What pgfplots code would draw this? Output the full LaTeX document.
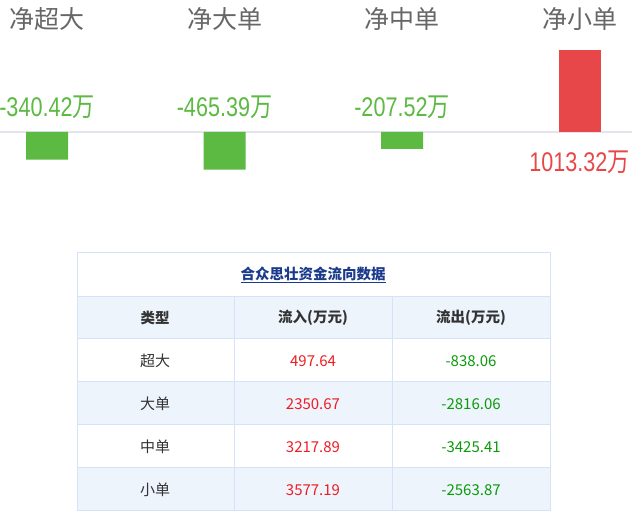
\documentclass[border=0pt]{standalone}
\usepackage{pgfplots}
\pgfplotsset{compat=1.18}
\usepackage{fontspec}
\setmainfont{Liberation Sans}
\newfontfamily\cjk{Noto Sans CJK SC}
\newfontfamily\numfont[FakeStretch=0.8]{Liberation Sans}
\newfontfamily\cjknarrow[FakeStretch=0.82]{Noto Sans CJK SC}

\definecolor{negbar}{HTML}{5CB942}
\definecolor{posbar}{HTML}{E8474A}
\definecolor{titlegray}{HTML}{666666}
\definecolor{zeroline}{HTML}{E4E5EC}
\definecolor{tblborder}{HTML}{D5E3FA}
\definecolor{tblfill}{HTML}{EDF4FC}
\definecolor{tbltitle}{HTML}{1A3A8C}
\definecolor{inred}{HTML}{EE1C25}
\definecolor{outgreen}{HTML}{0A9A0A}
\definecolor{txt}{HTML}{333333}

% net flow (10k yuan)
\pgfplotstableread{
x  y
0  -340.42
1  -465.39
2  -207.52
}\negdata
\pgfplotstableread{
x  y
3  1013.32
}\posdata

\newcommand{\vlab}[1]{{\numfont\fontsize{27}{27}\selectfont #1{\cjknarrow 万}}}

\begin{document}
\begin{tikzpicture}
\useasboundingbox (0pt,0pt) rectangle (632pt,513pt);
\begin{axis}[
  at={(0pt,513pt)}, anchor=north west,
  scale only axis,
  width=632pt, height=200pt,
  xmin=-0.2648, xmax=3.2958,
  ymin=-839.5, ymax=1629.6,
  axis x line=middle, axis y line=none,
  x axis line style={-, draw=zeroline, line width=1.6pt},
  xtick=\empty, ytick=\empty,
  clip=false,
]
  \addplot[ybar, bar width=42pt, bar shift=0pt, fill=negbar, draw=none] table[x=x, y=y] {\negdata};
  \addplot[ybar, bar width=42pt, bar shift=0pt, fill=posbar, draw=none] table[x=x, y=y] {\posdata};

  % category titles
  \foreach \i/\t in {0/净超大, 1/净大单, 2/净中单, 3/净小单} {
    \edef\tmp{\noexpand\node[text=titlegray, font=\noexpand\cjk\noexpand\fontsize{25}{25}\noexpand\selectfont] at (axis cs:\i,1395) {\t};}
    \tmp
  }
  % value labels
  \node[text=negbar] at (axis cs:0,309) {\vlab{-340.42}};
  \node[text=negbar] at (axis cs:1,309) {\vlab{-465.39}};
  \node[text=negbar] at (axis cs:2,309) {\vlab{-207.52}};
  \node[text=posbar] at (axis cs:3,-370) {\vlab{1013.32}};
\end{axis}

\begin{scope}[x=1pt, y=-1pt, shift={(0pt,513pt)}]
  % fills
  \fill[tblfill] (77,297) rectangle (550,339);
  \fill[tblfill] (77,382) rectangle (550,425);
  \fill[tblfill] (77,468) rectangle (550,511);
  % grid
  \draw[tblborder, line width=1pt] (77,253) rectangle (550,511);
  \foreach \yy in {297,339,382,425,468}
    \draw[tblborder, line width=1pt] (77,\yy) -- (550,\yy);
  \foreach \xx in {234,392}
    \draw[tblborder, line width=1pt] (\xx,297) -- (\xx,511);
  % title
  \node[text=tbltitle, font=\cjk\bfseries\fontsize{14.5}{14.5}\selectfont] at (313,275) {\underline{合众思壮资金流向数据}};
  % header
  \begin{scope}[every node/.style={text=txt, font=\cjk\bfseries\fontsize{14.5}{14.5}\selectfont}]
    \node at (155,318) {类型};
    \node at (313,318) {流入(万元)};
    \node at (471,318) {流出(万元)};
  \end{scope}
  % rows
  \begin{scope}[every node/.style={font=\cjk\fontsize{15}{15}\selectfont}]
    \node[text=txt] at (155,361) {超大};
    \node[text=inred] at (313,361) {497.64};
    \node[text=outgreen] at (471,361) {-838.06};
    \node[text=txt] at (155,404) {大单};
    \node[text=inred] at (313,404) {2350.67};
    \node[text=outgreen] at (471,404) {-2816.06};
    \node[text=txt] at (155,447) {中单};
    \node[text=inred] at (313,447) {3217.89};
    \node[text=outgreen] at (471,447) {-3425.41};
    \node[text=txt] at (155,490) {小单};
    \node[text=inred] at (313,490) {3577.19};
    \node[text=outgreen] at (471,490) {-2563.87};
  \end{scope}
\end{scope}
\end{tikzpicture}
\end{document}
